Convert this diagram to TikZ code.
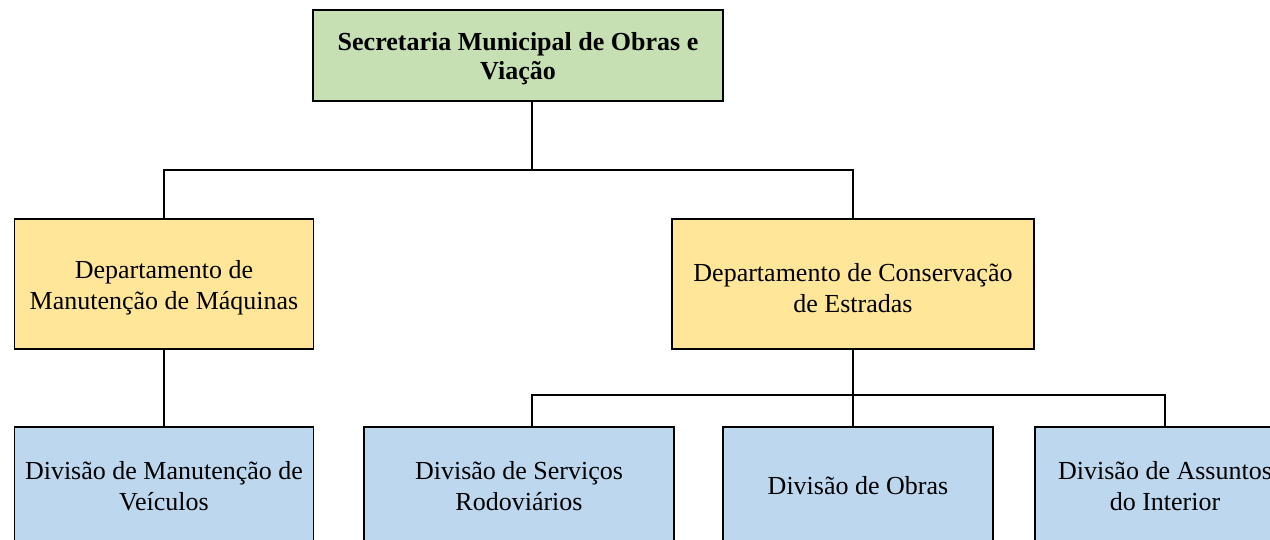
\documentclass[tikz,border=0pt]{standalone}
\usepackage{fontspec}
\setmainfont{Liberation Serif}
\definecolor{topgreen}{HTML}{C6E0B4}
\definecolor{deptyellow}{HTML}{FFE699}
\definecolor{divblue}{HTML}{BDD7EE}
\tikzset{
  box/.style={draw=black, line width=1.1pt, inner sep=0pt},
  txt/.style={align=center, inner sep=0pt, font=\fontsize{26}{31}\selectfont},
  topbox/.style={box, fill=topgreen, minimum width=410pt, minimum height=91pt,
    label={[txt, font=\fontsize{26}{29}\selectfont\bfseries, yshift=-3pt]center:#1}},
  deptbox/.style={box, fill=deptyellow, minimum height=130pt,
    label={[txt, yshift=-4pt]center:#1}},
  divbox/.style={box, fill=divblue, minimum height=118pt,
    label={[txt]center:#1}},
  conn/.style={draw=black, line width=1.1pt}
}
\begin{document}
\begin{tikzpicture}[x=1pt,y=-1pt]
\useasboundingbox (0,0) rectangle (1270,540);
\clip (0,0) rectangle (1270,540);
\node[topbox={Secretaria Municipal de Obras e\\Viação}] (top) at (518,55.5) {};
\node[deptbox={Departamento de\\Manutenção de Máquinas}, minimum width=299pt] (d1) at (164,284) {};
\node[deptbox={Departamento de Conservação\\de Estradas}, minimum width=362pt] (d2) at (853,284) {};
\node[divbox={Divisão de Manutenção de\\Veículos}, minimum width=299pt] (v1) at (164,486) {};
\node[divbox={Divisão de Serviços\\Rodoviários}, minimum width=310pt] (v2) at (519,486) {};
\node[divbox={Divisão de Obras}, minimum width=270pt] (v3) at (858,486) {};
\node[divbox={Divisão de Assuntos\\do Interior}, minimum width=260pt] (v4) at (1165,486) {};
\coordinate (j1) at (532,170);
\coordinate (j2) at (853,395);
\coordinate (j3) at (532,395);
\draw[conn] (top.south -| j1) -- (j1);
\draw[conn] (d1.north) |- (j1) -| (d2.north);
\draw[conn] (d1.south) -- (v1.north);
\draw[conn] (d2.south) -- (j2);
\draw[conn] (v2.north -| j3) |- (j2) -| (v4.north);
\draw[conn] (j2) -- (v3.north -| j2);
\end{tikzpicture}
\end{document}
